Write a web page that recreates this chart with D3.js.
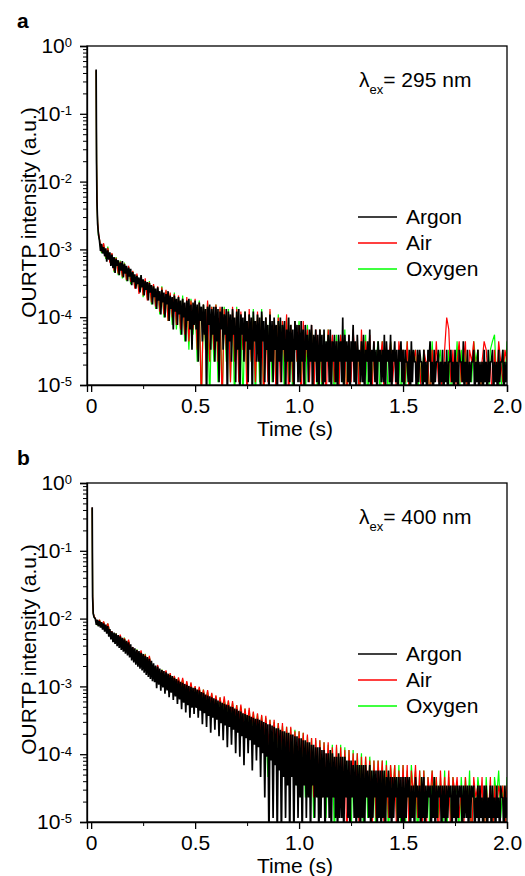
<!DOCTYPE html>
<html>
<head>
<meta charset="utf-8">
<script src="https://cdn.jsdelivr.net/npm/d3@7"></script>
<style>
  body { margin: 0; background: #fff; }
  svg { display: block; font-family: "Liberation Sans", Arial, sans-serif; }
</style>
</head>
<body>
<svg id="chart" width="525" height="876"></svg>
<script>
// ---- data: normalised intensity; tails are photon counts on a regular time grid ----
const seriesNames = ["Argon", "Air", "Oxygen"];
const seriesColors = ["#000000", "#ff0000", "#00ff00"];
const seriesWidths = [1.7, 1.2, 1.2];

const xTicks = [0, 0.5, 1.0, 1.5, 2.0];
const xTickLabels = ["0", "0.5", "1.0", "1.5", "2.0"];
const yDecades = [-5, -4, -3, -2, -1, 0];

// panel a, lambda_ex = 295 nm
const countUnitA = 1.1e-5;
const tailStartA = 0.04;
const headTimeA = [0.024, 0.026, 0.028, 0.031, 0.035];
const argonHeadA = [0.45, 0.018, 0.005, 0.0024, 0.0017];
const airHeadA = [0.44, 0.02, 0.0055, 0.0026, 0.0018];
const oxygenHeadA = [0.43, 0.019, 0.0052, 0.0025, 0.0016];
// argon: 5 ms bins
const argonTailA = [
  122, 86, 110, 79, 98, 72, 94, 60, 88, 64, 82, 52,
  76, 48, 70, 41, 66, 52, 63, 38, 58, 44, 61, 35, 55, 40, 52, 31, 49, 36, 47, 27,
  42, 30, 39, 24, 37, 28, 35, 21, 38, 25, 33, 19, 31, 23, 30, 16, 29, 21, 27, 14,
  26, 18, 24, 12, 25, 16, 22, 10, 23, 15, 21, 9, 20, 14, 22, 8, 19, 12, 18, 6,
  19, 11, 17, 7, 18, 10, 16, 5, 17, 9, 15, 4, 16, 8, 17, 6, 14, 3, 15, 7,
  16, 6, 14, 2, 15, 8, 13, 4, 14, 5, 12, 0, 13, 7, 14, 3, 12, 5, 13, 2,
  13, 4, 12, 1, 11, 6, 13, 3, 10, 5, 12, 0, 11, 4, 10, 2, 12, 5, 9, 1,
  11, 3, 12, 0, 10, 5, 9, 2, 11, 4, 8, 1, 10, 3, 9, 0, 11, 4, 8, 2,
  10, 2, 9, 0, 11, 4, 8, 1, 9, 3, 7, 0, 10, 2, 8, 1, 9, 3, 7, 0,
  8, 2, 9, 1, 7, 3, 8, 0, 6, 2, 9, 1, 7, 2, 6, 0, 8, 3, 7, 1,
  7, 1, 8, 2, 6, 0, 7, 3, 5, 1, 6, 2, 7, 0, 5, 2, 6, 1, 5, 0,
  6, 2, 5, 0, 6, 1, 4, 2, 5, 1, 6, 0, 4, 2, 5, 1, 4, 0, 5, 2,
  4, 1, 9, 0, 5, 2, 4, 1, 5, 0, 4, 2, 7, 1, 4, 0, 5, 2, 3, 1,
  4, 1, 5, 0, 3, 2, 4, 1, 6, 0, 3, 2, 4, 1, 3, 0, 4, 2, 3, 1,
  3, 1, 5, 0, 4, 2, 3, 1, 5, 0, 3, 2, 4, 1, 3, 0, 3, 2, 4, 1,
  3, 0, 3, 2, 2, 1, 3, 0, 4, 1, 3, 2, 2, 0, 3, 1, 3, 2, 2, 0,
  3, 1, 2, 0, 3, 2, 4, 1, 2, 0, 3, 1, 2, 2, 3, 0, 2, 1, 3, 0,
  2, 1, 3, 0, 2, 2, 3, 1, 2, 0, 3, 1, 2, 0, 3, 2, 2, 1, 4, 0,
  2, 1, 3, 0, 2, 1, 2, 2, 3, 0, 2, 1, 3, 0, 2, 1, 2, 0, 3, 1,
  2, 0, 3, 1, 2, 2, 3, 0, 2, 1, 2, 0, 3, 1, 2, 2, 3, 0, 2, 1,
  2
];
// air and oxygen: 10 ms bins
const airTailA = [
  130, 84, 112, 70, 96, 58,
  80, 44, 68, 40, 60, 36, 56, 32, 52, 30,
  44, 24, 40, 20, 36, 19, 34, 16, 30, 15,
  28, 13, 26, 11, 25, 10, 23, 8, 21, 9,
  20, 7, 19, 6, 17, 5, 18, 4, 16, 6,
  17, 3, 15, 0, 14, 4, 16, 2, 13, 3,
  14, 2, 13, 0, 12, 3, 11, 1, 13, 2,
  12, 1, 11, 3, 10, 0, 12, 2, 9, 1,
  11, 2, 10, 0, 9, 1, 12, 2, 8, 0,
  9, 1, 8, 2, 10, 0, 7, 1, 8, 2,
  7, 0, 8, 2, 6, 1, 7, 0, 6, 2,
  6, 1, 5, 0, 6, 2, 5, 1, 4, 0,
  5, 2, 4, 0, 5, 1, 6, 2, 4, 0,
  6, 1, 4, 2, 5, 0, 4, 1, 3, 2,
  4, 0, 3, 2, 4, 1, 3, 0, 4, 2,
  3, 1, 4, 0, 3, 2, 3, 1, 2, 0,
  3, 2, 2, 0, 3, 1, 4, 1, 2, 0,
  3, 9, 6, 1, 3, 0, 2, 4, 1, 2,
  4, 0, 3, 2, 4, 1, 3, 0, 2, 4,
  3, 1, 2, 0, 3, 1, 4, 2, 1, 3,
  2
];
const oxygenTailA = [
  126, 80, 108, 66, 100, 60,
  78, 42, 70, 38, 62, 34, 58, 31, 50, 28,
  43, 25, 38, 22, 37, 18, 32, 17, 31, 14,
  27, 12, 25, 10, 26, 9, 22, 8, 20, 7,
  21, 6, 18, 5, 19, 4, 16, 3, 17, 5,
  15, 2, 16, 0, 14, 3, 15, 0, 13, 2,
  14, 1, 12, 0, 13, 2, 12, 1, 11, 0,
  13, 2, 10, 0, 11, 1, 10, 2, 12, 0,
  10, 1, 12, 0, 9, 2, 11, 1, 8, 0,
  10, 2, 8, 0, 9, 1, 7, 0, 8, 2,
  8, 1, 6, 0, 7, 2, 6, 1, 5, 0,
  6, 0, 5, 2, 6, 1, 4, 0, 5, 1,
  5, 1, 6, 0, 4, 2, 5, 1, 4, 0,
  4, 2, 5, 0, 4, 1, 3, 2, 4, 0,
  4, 1, 3, 0, 4, 2, 3, 1, 3, 0,
  3, 0, 4, 1, 3, 2, 3, 0, 2, 1,
  3, 1, 2, 0, 4, 1, 2, 2, 3, 0,
  2, 1, 3, 0, 2, 1, 4, 0, 3, 1,
  3, 0, 2, 1, 4, 2, 3, 0, 2, 1,
  2, 0, 3, 4, 5, 1, 2, 0, 3, 1,
  4
];

// panel b, lambda_ex = 400 nm
const countUnitB = 1.15e-5;
const tailStartB = 0.02;
const headTimeB = [0.005, 0.007, 0.010, 0.014];
const argonHeadB = [0.44, 0.021, 0.0118, 0.0105];
const airHeadB = [0.43, 0.022, 0.0122, 0.0108];
const oxygenHeadB = [0.42, 0.02, 0.012, 0.0106];
// argon: 5 ms bins
const argonTailB = [
  862, 705, 835, 670, 805, 640, 772, 598, 742, 560, 710, 520, 676, 470, 610, 430,
  565, 392, 540, 368, 522, 340, 498, 322, 475, 300, 452, 282, 430, 265, 410, 248, 388, 232, 362, 210,
  332, 196, 318, 182, 300, 170, 288, 158, 272, 150, 262, 138, 246, 128, 236, 120, 222, 112, 208, 104,
  190, 100, 176, 82, 170, 92, 160, 75, 152, 84, 146, 68, 140, 76, 134, 60, 128, 70, 124, 55,
  116, 62, 112, 48, 106, 56, 102, 40, 98, 50, 94, 36, 92, 46, 88, 30, 86, 42, 83, 34,
  82, 42, 78, 30, 76, 38, 72, 24, 70, 35, 66, 22, 64, 32, 62, 18, 60, 30, 58, 20,
  56, 28, 54, 16, 52, 25, 50, 14, 48, 23, 47, 11, 46, 22, 44, 12, 43, 20, 41, 9,
  40, 18, 38, 8, 37, 16, 35, 6, 34, 15, 33, 9, 32, 14, 31, 5, 30, 12, 29, 7,
  29, 11, 28, 4, 27, 9, 26, 2, 25, 8, 24, 0, 24, 7, 23, 1, 22, 6, 21, 0,
  21, 5, 20, 0, 19, 4, 19, 1, 18, 3, 18, 0, 17, 4, 17, 0, 16, 3, 16, 1,
  15, 2, 15, 0, 14, 3, 14, 1, 13, 2, 13, 0, 12, 3, 12, 1, 11, 2, 11, 0,
  11, 1, 10, 2, 10, 0, 9, 2, 9, 1, 10, 0, 9, 2, 8, 1, 8, 0, 9, 1,
  8, 1, 8, 0, 8, 2, 7, 1, 7, 0, 7, 2, 6, 1, 7, 0, 6, 1, 6, 0,
  6, 1, 6, 0, 6, 2, 5, 1, 6, 0, 5, 1, 5, 2, 5, 0, 5, 1, 5, 0,
  5, 1, 5, 0, 4, 2, 5, 1, 4, 0, 4, 1, 4, 2, 4, 0, 4, 1, 4, 0,
  4, 0, 4, 1, 4, 2, 4, 0, 3, 1, 3, 0, 4, 2, 3, 1, 3, 0, 4, 1,
  4, 0, 3, 1, 3, 2, 3, 0, 3, 1, 4, 0, 3, 1, 3, 2, 3, 0, 3, 1,
  3, 0, 3, 1, 3, 2, 3, 0, 3, 1, 3, 0, 3, 1, 3, 2, 3, 0, 3, 1,
  3, 1, 3, 0, 3, 1, 3, 2, 3, 0, 2, 1, 3, 0, 3, 1, 2, 0, 3, 1,
  3, 0, 2, 1, 3, 0, 3, 1, 2, 0, 3, 1, 2, 0, 3, 2, 2, 0, 3, 1,
  2
];
// air and oxygen: 10 ms bins
const airTailB = [
  880, 700, 840, 660, 790, 610, 740, 560,
  560, 420, 520, 385, 505, 350, 450, 320, 425, 290,
  330, 232, 300, 210, 296, 190, 258, 172, 246, 160,
  176, 128, 180, 116, 152, 108, 150, 100, 136, 92,
  124, 86, 118, 80, 116, 74, 104, 68, 100, 62,
  88, 58, 86, 54, 78, 50, 77, 46, 70, 42,
  64, 40, 60, 36, 62, 34, 54, 30, 53, 28,
  46, 26, 47, 24, 41, 22, 42, 20, 37, 18,
  35, 16, 33, 14, 32, 12, 28, 10, 28, 9,
  25, 8, 25, 6, 22, 7, 22, 5, 19, 4,
  19, 5, 18, 3, 17, 4, 15, 2, 15, 3,
  14, 2, 13, 3, 13, 1, 11, 2, 12, 1,
  11, 2, 10, 0, 10, 2, 9, 1, 9, 0,
  8, 1, 8, 2, 7, 0, 7, 1, 7, 2,
  7, 0, 6, 1, 6, 2, 6, 0, 5, 1,
  6, 1, 6, 0, 5, 2, 6, 1, 5, 0,
  5, 0, 4, 2, 5, 1, 4, 0, 5, 1,
  4, 1, 5, 0, 4, 2, 4, 1, 3, 0,
  4, 1, 3, 0, 4, 2, 3, 1, 4, 0,
  3, 1, 4, 0, 3, 1, 3, 2, 3, 0,
  3
];
const oxygenTailB = [
  870, 690, 830, 650, 780, 600, 730, 550,
  550, 410, 525, 378, 480, 342, 455, 312, 410, 282,
  320, 226, 305, 204, 280, 185, 262, 168, 236, 154,
  172, 122, 165, 112, 154, 104, 144, 96, 134, 88,
  122, 82, 114, 76, 110, 70, 100, 64, 96, 58,
  86, 54, 82, 50, 78, 46, 73, 42, 68, 38,
  62, 36, 60, 33, 56, 30, 53, 27, 50, 25,
  46, 23, 44, 21, 41, 19, 39, 17, 36, 15,
  34, 13, 32, 11, 30, 4, 28, 9, 26, 8,
  25, 7, 23, 5, 22, 6, 21, 4, 20, 3,
  19, 4, 18, 2, 16, 3, 15, 1, 14, 2,
  14, 2, 13, 1, 12, 2, 12, 0, 11, 1,
  12, 1, 11, 2, 10, 0, 10, 1, 9, 2,
  9, 0, 8, 1, 8, 2, 7, 0, 7, 1,
  7, 1, 7, 0, 6, 2, 6, 1, 6, 0,
  6, 0, 5, 1, 6, 2, 5, 0, 5, 1,
  5, 1, 4, 0, 5, 2, 4, 1, 4, 0,
  5, 0, 4, 1, 4, 2, 3, 0, 4, 1,
  4, 1, 5, 0, 3, 1, 4, 2, 3, 0,
  4, 1, 3, 0, 4, 2, 5, 1, 3, 0,
  4
];

function buildSeries(headTime, head, tailStart, tail, unit, step) {
    const pts = head.map((v, i) => ({t: headTime[i], v: v}));
    tail.forEach((c, i) => pts.push({t: tailStart + i * step, v: c * unit}));
    return pts;
}

const panels = [
    {
        letter: "a", top: 46, wavelength: "295",
        series: [
            buildSeries(headTimeA, argonHeadA, tailStartA, argonTailA, countUnitA, 0.005),
            buildSeries(headTimeA, airHeadA, tailStartA, airTailA, countUnitA, 0.01),
            buildSeries(headTimeA, oxygenHeadA, tailStartA, oxygenTailA, countUnitA, 0.01)
        ]
    },
    {
        letter: "b", top: 483, wavelength: "400",
        series: [
            buildSeries(headTimeB, argonHeadB, tailStartB, argonTailB, countUnitB, 0.005),
            buildSeries(headTimeB, airHeadB, tailStartB, airTailB, countUnitB, 0.01),
            buildSeries(headTimeB, oxygenHeadB, tailStartB, oxygenTailB, countUnitB, 0.01)
        ]
    }
];

const left = 87, plotW = 420, plotH = 339;
const svg = d3.select("#chart");

panels.forEach((p, pi) => drawPanel(p, pi));

function drawPanel(p, pi) {
    const g = svg.append("g").attr("transform", `translate(${left},${p.top})`);

    const x = d3.scaleLinear().domain([-0.02, 2.0]).range([0, plotW]);
    const y = d3.scaleLog().domain([1e-5, 1]).range([plotH, 0]);

    g.append("clipPath").attr("id", "clip" + pi)
        .append("rect").attr("width", plotW).attr("height", plotH);

    // zero counts fall below the log axis floor
    const line = d3.line()
        .x(d => x(d.t))
        .y(d => d.v > 0 ? y(d.v) : plotH + 20);

    const dataG = g.append("g").attr("clip-path", `url(#clip${pi})`);
    // oxygen, air first; argon on top
    [2, 1, 0].forEach(k => {
        dataG.append("path")
            .datum(p.series[k])
            .attr("fill", "none")
            .attr("stroke", seriesColors[k])
            .attr("stroke-width", seriesWidths[k])
            .attr("stroke-linejoin", "bevel")
            .attr("d", line);
    });

    // frame
    g.append("rect")
        .attr("width", plotW).attr("height", plotH)
        .attr("fill", "none").attr("stroke", "#000").attr("stroke-width", 1.3);

    // y axis, minor then major
    const minor = [];
    yDecades.slice(0, -1).forEach(e => { for (let m = 2; m < 10; m++) minor.push(m * Math.pow(10, e)); });

    g.append("g")
        .call(d3.axisLeft(y).tickValues(minor).tickSize(4).tickFormat(""))
        .call(a => a.select(".domain").remove())
        .selectAll("line").attr("stroke-width", 1);

    const yAx = g.append("g")
        .call(d3.axisLeft(y).tickValues(yDecades.map(e => Math.pow(10, e))).tickSize(7).tickPadding(8).tickFormat(""))
        .call(a => a.select(".domain").attr("stroke-width", 1.3));
    yAx.selectAll("line").attr("stroke-width", 1.3);
    yAx.selectAll(".tick text")
        .attr("font-size", 21)
        .attr("fill", "#000")
        .each(function (d) {
            const t = d3.select(this);
            t.append("tspan").text("10");
            t.append("tspan").attr("dy", "-0.45em").attr("font-size", 13).text(Math.round(Math.log10(d)));
        });

    // x axis
    g.append("g")
        .attr("transform", `translate(0,${plotH})`)
        .call(d3.axisBottom(x).tickValues([0.25, 0.75, 1.25, 1.75]).tickSize(4).tickFormat(""))
        .call(a => a.select(".domain").remove());

    const xAx = g.append("g")
        .attr("transform", `translate(0,${plotH})`)
        .call(d3.axisBottom(x).tickValues(xTicks).tickSize(7).tickPadding(6)
            .tickFormat((d, i) => xTickLabels[i]))
        .call(a => a.select(".domain").attr("stroke-width", 1.3));
    xAx.selectAll("line").attr("stroke-width", 1.3);
    xAx.selectAll("text").attr("font-size", 21).attr("fill", "#000");

    // axis titles
    g.append("text")
        .attr("x", plotW / 2 - 2).attr("y", plotH + 51)
        .attr("text-anchor", "middle").attr("font-size", 21)
        .text("Time (s)");

    g.append("text")
        .attr("transform", `translate(${36 - left},${plotH / 2 - 3}) rotate(-90)`)
        .attr("text-anchor", "middle").attr("font-size", 21)
        .text("OURTP intensity (a.u.)");

    // panel letter
    svg.append("text")
        .attr("x", 17).attr("y", p.top - 18)
        .attr("font-size", 21).attr("font-weight", "bold")
        .text(p.letter);

    // excitation wavelength
    const lab = g.append("text")
        .attr("x", 359 - left).attr("y", 41)
        .attr("font-size", 21);
    lab.append("tspan").text("λ");
    lab.append("tspan").attr("dy", 7).attr("font-size", 13).text("ex");
    lab.append("tspan").attr("dy", -7).text("= " + p.wavelength + " nm");

    // legend
    const leg = g.append("g").attr("transform", `translate(${358 - left},${171})`);
    seriesNames.forEach((name, i) => {
        const row = leg.append("g").attr("transform", `translate(0,${i * 26})`);
        row.append("line").attr("x1", 0).attr("x2", 39)
            .attr("stroke", seriesColors[i]).attr("stroke-width", 1.5);
        row.append("text").attr("x", 48).attr("y", 7)
            .attr("font-size", 21).text(name);
    });
}
</script>
</body>
</html>
